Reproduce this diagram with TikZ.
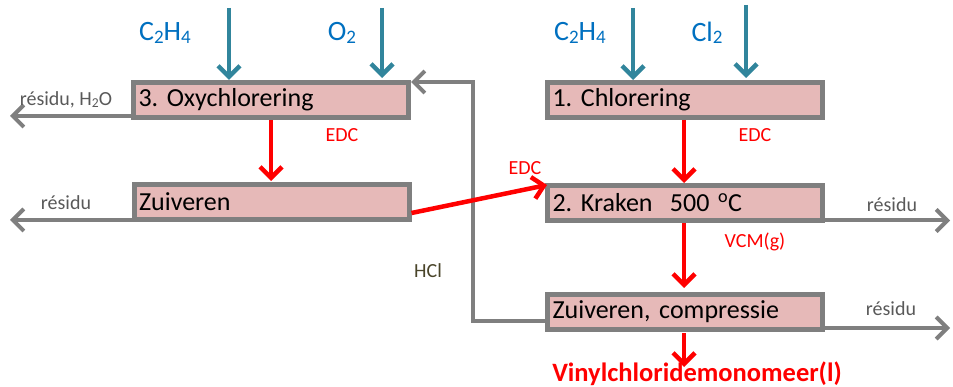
\documentclass[tikz,border=0pt]{standalone}
\usepackage{fontspec}
\setmainfont{Carlito}
\usetikzlibrary{arrows.meta,calc}
\definecolor{boxfill}{HTML}{E6B9B8}
\definecolor{boxline}{HTML}{7F7F7F}
\definecolor{feed}{HTML}{31859C}
\definecolor{feedtxt}{HTML}{0070C0}
\definecolor{restxt}{HTML}{595959}
\definecolor{hcltxt}{HTML}{4A452A}
\definecolor{flowred}{HTML}{FF0000}
\newcommand\lowsub[1]{\raisebox{-0.18ex}{\scalebox{0.68}{#1}}}
\frenchspacing
\begin{document}
\begin{tikzpicture}[x=1pt,y=-1pt,
  procbox/.style={draw=boxline,line width=5pt,fill=boxfill,minimum width=275pt,
    minimum height=35pt,inner xsep=5pt,inner ysep=0pt,text width=265pt,align=left,
    font=\fontsize{26}{29}\selectfont},
  tip/.style={-{Straight Barb[length=11pt,width=22pt]}},
  feedline/.style={tip,draw=feed,line width=4.5pt},
  redline/.style={tip,draw=flowred,line width=4.5pt},
  grayline/.style={tip,draw=boxline,line width=4pt},
  feedlab/.style={text=feedtxt,font=\fontsize{28}{32}\selectfont},
  smalllab/.style={font=\fontsize{20}{24}\selectfont},
  reslab/.style={smalllab,text=restxt},
  redlab/.style={smalllab,text=flowred}]
\useasboundingbox (0,0) rectangle (953,387);

% process boxes
\node[procbox] (ox) at (271,100) {3. Oxychlorering};
\node[procbox] (zu) at (271.5,202) {Zuiveren};
\node[procbox] (ch) at (685,100) {1. Chlorering};
\node[procbox] (kr) at (685,203) {2. Kraken~\ 500 \textsuperscript{o}C};
\node[procbox] (zc) at (685,312) {Zuiveren, compressie};

% feed labels
\node[feedlab] (lc1) at (165,33) {C\lowsub{2}H\lowsub{4}};
\node[feedlab] (lo2) at (342,33) {O\lowsub{2}};
\node[feedlab] (lc2) at (580,33) {C\lowsub{2}H\lowsub{4}};
\node[feedlab] (lcl) at (707,33) {Cl\lowsub{2}};

% feed arrows
\coordinate (f1) at (229,8);
\coordinate (f2) at (382,8);
\coordinate (f3) at (633,8);
\coordinate (f4) at (746,5);
\draw[feedline] (f1) -- (f1 |- ox.north);
\draw[feedline] (f2) -- ($(f2 |- ox.north)+(0,-2)$);
\draw[feedline] (f3) -- (f3 |- ch.north);
\draw[feedline] (f4) -- ($(f4 |- ch.north)+(0,-2)$);

% residues
\coordinate (r1) at (10,116);
\coordinate (r2) at (10,220);
\coordinate (r3) at (950,220.5);
\coordinate (r4) at (950,328);
\draw[grayline] (ox.west |- r1) -- (r1);
\draw[grayline] (zu.west |- r2) -- (r2);
\draw[grayline] (kr.east |- r3) -- (r3);
\draw[grayline] (zc.east |- r4) -- (r4);
\node[reslab] (t1) at (66,100) {résidu, H\lowsub{2}O};
\node[reslab] (t2) at (66,203) {résidu};
\node[reslab] (t3) at (892,205) {résidu};
\node[reslab] (t4) at (891,309) {résidu};

% HCl recycle
\coordinate (h1) at (473,321);
\coordinate (h2) at (473,82);
\draw[grayline] (zc.west |- h1) -- (h1) -- (h2) -- (ox.east |- h2);
\node[smalllab,text=hcltxt] (thcl) at (428,271) {HCl};

% EDC / VCM flows
\coordinate (e1) at (271,120);
\draw[redline] (e1) -- ($(zu.north -| e1)+(0,-1)$);
\node[redlab] (te1) at (342,135) {EDC};
\coordinate (e2) at (684,120);
\draw[redline] (e2) -- (kr.north -| e2);
\node[redlab] (te2) at (755,135) {EDC};
\draw[redline] ($(zu.east)+(0,11)$) -- ($(kr.west)+(2,-18)$);
\node[redlab] (te3) at (525,168) {EDC};
\coordinate (v1) at (684,223);
\draw[redline] (v1) -- ($(zc.north -| v1)+(0,-4)$);
\node[redlab] (tv) at (755,242) {VCM(g)};
\coordinate (p1) at (684,333);
\coordinate (p2) at (684,367);
\draw[redline] (p1) -- (p2);
\node[text=flowred,font=\fontsize{26.5}{30}\selectfont\bfseries] (prod) at (697,374) {Vinylchloridemonomeer(l)};
\end{tikzpicture}
\end{document}
